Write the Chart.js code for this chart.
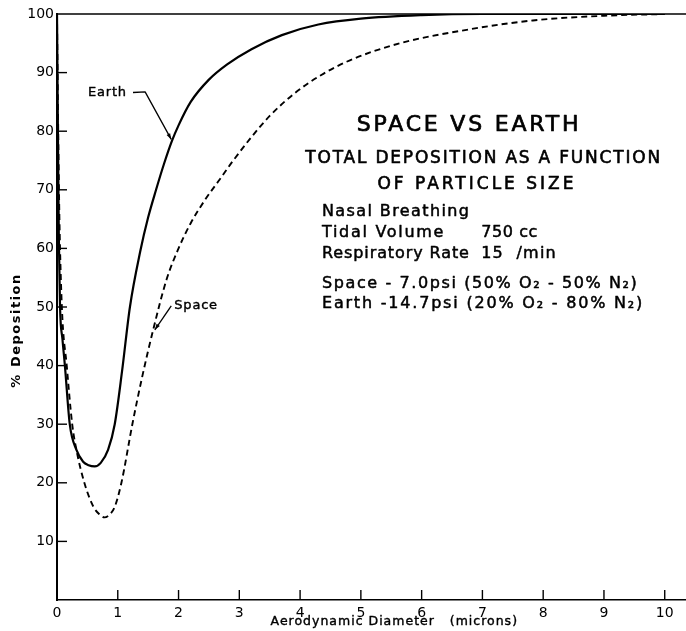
<!DOCTYPE html>
<html>
<head>
<meta charset="utf-8">
<title>Space vs Earth – total deposition</title>
<script src="https://cdn.jsdelivr.net/npm/chart.js@4.4.1/dist/chart.umd.min.js"></script>
<style>
  html, body { margin: 0; padding: 0; background: #fff; }
  canvas { display: block; }
</style>
</head>
<body>
<canvas id="chart" width="686" height="631"></canvas>
<script>
// Aerodynamic diameter (microns) and % total deposition, Earth (14.7 psi)
const diameterEarth   = [0, 0.015, 0.03, 0.05, 0.09, 0.13, 0.21, 0.32, 0.43, 0.52, 0.62, 0.72, 0.84, 0.95, 1.07, 1.2, 1.37, 1.5, 1.63, 1.76, 1.89, 2.0, 2.2, 2.5, 2.8, 3.2, 3.7, 4.3, 5.0, 6.0, 7.0, 10.0];
const depositionEarth = [100, 80, 62, 50, 44.5, 40, 30, 25.6, 23.6, 23.0, 22.8, 23.4, 25.6, 30, 39, 50, 59.5, 65.3, 70, 74.4, 78.3, 81, 85, 88.8, 91.4, 94.0, 96.4, 98.2, 99.2, 99.8, 100, 100];

// Same quantity for the space cabin atmosphere (7.0 psi)
const diameterSpace   = [0, 0.02, 0.04, 0.08, 0.16, 0.25, 0.32, 0.45, 0.6, 0.7, 0.78, 0.87, 0.95, 1.06, 1.24, 1.4, 1.58, 1.8, 2.0, 2.2, 2.45, 2.68, 2.9, 3.2, 3.5, 3.9, 4.35, 4.82, 5.64, 6.74, 7.83, 9.0, 10.0];
const depositionSpace = [100, 80, 65, 50, 40, 30, 25.6, 20, 15.9, 14.6, 14.1, 14.6, 15.9, 20, 30, 38, 46, 54.6, 60.0, 64.3, 68.5, 71.8, 75.0, 79.0, 82.6, 86.4, 89.6, 92.1, 95.0, 97.3, 98.9, 99.7, 100];

const seriesNames = ['Earth', 'Space'];
const xTickValues = [0, 1, 2, 3, 4, 5, 6, 7, 8, 9, 10];
const yTickValues = [10, 20, 30, 40, 50, 60, 70, 80, 90, 100];
const xAxisTitle = 'Aerodynamic Diameter   (microns)';
const yAxisTitle = '% Deposition';

const headingLines = ['SPACE VS EARTH', 'TOTAL DEPOSITION AS A FUNCTION', 'OF PARTICLE SIZE'];
const conditionLabels = ['Nasal Breathing', 'Tidal Volume', 'Respiratory Rate'];
const conditionValues = ['', '750 cc', '15  /min'];
const atmosphereLines = ['Space - 7.0psi (50% O\u2082 - 50% N\u2082)', 'Earth -14.7psi (20% O\u2082 - 80% N\u2082)'];

const FONT = '"DejaVu Sans", "Liberation Sans", sans-serif';

function toPoints(xs, ys) {
  return xs.map((v, i) => ({ x: v, y: ys[i] }));
}

function line(ctx, x1, y1, x2, y2) {
  ctx.beginPath();
  ctx.moveTo(x1, y1);
  ctx.lineTo(x2, y2);
  ctx.stroke();
}

function arrowHead(ctx, fromX, fromY, tipX, tipY, len, half) {
  const ang = Math.atan2(tipY - fromY, tipX - fromX);
  ctx.beginPath();
  ctx.moveTo(tipX, tipY);
  ctx.lineTo(tipX - len * Math.cos(ang) + half * Math.sin(ang), tipY - len * Math.sin(ang) - half * Math.cos(ang));
  ctx.lineTo(tipX - len * Math.cos(ang) - half * Math.sin(ang), tipY - len * Math.sin(ang) + half * Math.cos(ang));
  ctx.closePath();
  ctx.fill();
}

// Lettering: filled glyphs with a thin outline for a pen-drawn weight
function text(ctx, str, px, py, size, align, spacing, weight, outline) {
  ctx.font = (weight || 'normal') + ' ' + size + 'px ' + FONT;
  ctx.letterSpacing = (spacing || 0) + 'px';
  ctx.textAlign = align;
  ctx.textBaseline = 'middle';
  ctx.fillText(str, px, py);
  if (outline) {
    ctx.lineWidth = outline;
    ctx.lineJoin = 'round';
    ctx.strokeText(str, px, py);
  }
}

// Frame line at 100 %, inward tick marks, titles and annotation text
const decorations = {
  id: 'decorations',
  afterDatasetsDraw(chart) {
    const { ctx, chartArea: a, scales: { x, y } } = chart;
    const X = v => x.getPixelForValue(v);
    const Y = v => y.getPixelForValue(v);
    ctx.save();
    ctx.strokeStyle = '#000';
    ctx.fillStyle = '#000';

    ctx.lineWidth = 1.6;
    line(ctx, a.left, Y(100), a.right, Y(100));

    ctx.lineWidth = 1.4;
    yTickValues.filter(v => v < 100).forEach(v => line(ctx, a.left, Y(v), a.left + 10, Y(v)));
    xTickValues.filter(v => v > 0).forEach(v => line(ctx, X(v), a.bottom, X(v), a.bottom - 10));

    // axis titles
    text(ctx, xAxisTitle, X(5.55), 622, 12.5, 'center', 1.0, 'normal', 0.4);
    ctx.save();
    ctx.translate(17, Y(46));
    ctx.rotate(-Math.PI / 2);
    text(ctx, yAxisTitle, 0, 0, 13, 'center', 1.5, 'bold');
    ctx.restore();

    // curve labels with leader lines
    text(ctx, seriesNames[0], X(0.51), Y(86.5), 13, 'left', 0.8, 'normal', 0.4);
    ctx.lineWidth = 1.3;
    ctx.beginPath();
    ctx.moveTo(X(1.25), Y(86.6));
    ctx.lineTo(X(1.45), Y(86.7));
    ctx.lineTo(X(1.88), Y(78.6));
    ctx.stroke();
    arrowHead(ctx, X(1.45), Y(86.7), X(1.88), Y(78.6), 6, 2);

    text(ctx, seriesNames[1], X(1.93), Y(50.3), 13, 'left', 0.8, 'normal', 0.4);
    ctx.lineWidth = 1.3;
    line(ctx, X(1.88), Y(50.2), X(1.61), Y(46.1));
    arrowHead(ctx, X(1.88), Y(50.2), X(1.61), Y(46.1), 6, 2);

    // heading block
    text(ctx, headingLines[0], X(6.78), Y(81.05), 22, 'center', 2.8, 'normal', 0.7);
    text(ctx, headingLines[1], X(7.02), Y(75.3), 17, 'center', 1.8, 'normal', 0.6);
    text(ctx, headingLines[2], X(6.91), Y(70.9), 17, 'center', 3.0, 'normal', 0.6);

    // breathing conditions
    const rows = [66.3, 62.7, 59.0];
    const spacing = [1.4, 1.7, 0.9];
    conditionLabels.forEach((s, i) => {
      text(ctx, s, X(4.36), Y(rows[i]), 16, 'left', spacing[i], 'normal', 0.5);
      if (conditionValues[i]) text(ctx, conditionValues[i], X(6.98), Y(rows[i]), 16, 'left', i === 2 ? 1.2 : 0.6, 'normal', 0.5);
    });
    text(ctx, atmosphereLines[0], X(4.36), Y(54.0), 16, 'left', 1.6, 'normal', 0.5);
    text(ctx, atmosphereLines[1], X(4.36), Y(50.6), 16, 'left', 1.8, 'normal', 0.5);

    ctx.restore();
  }
};

new Chart(document.getElementById('chart'), {
  type: 'line',
  data: {
    datasets: [
      {
        label: seriesNames[0],
        data: toPoints(diameterEarth, depositionEarth),
        borderColor: '#000',
        borderWidth: 2.2,
        pointRadius: 0,
        cubicInterpolationMode: 'monotone',
        fill: false
      },
      {
        label: seriesNames[1],
        data: toPoints(diameterSpace, depositionSpace),
        borderColor: '#000',
        borderWidth: 1.9,
        borderDash: [6, 4],
        pointRadius: 0,
        cubicInterpolationMode: 'monotone',
        fill: false
      }
    ]
  },
  options: {
    responsive: false,
    animation: false,
    events: [],
    layout: { padding: { top: 14, right: 0, bottom: 0, left: 0 } },
    plugins: { legend: { display: false }, tooltip: { enabled: false }, title: { display: false } },
    scales: {
      x: {
        type: 'linear',
        min: 0,
        max: 10.35,
        afterBuildTicks: s => { s.ticks = xTickValues.map(v => ({ value: v })); },
        afterFit: s => { s.height = 31; },
        grid: { display: false, drawTicks: false },
        border: { display: true, color: '#000', width: 1.6 },
        ticks: { color: '#000', padding: 5, maxRotation: 0, autoSkip: false, font: { family: FONT, size: 14 } }
      },
      y: {
        type: 'linear',
        min: 0,
        max: 100,
        afterBuildTicks: s => { s.ticks = yTickValues.map(v => ({ value: v })); },
        afterFit: s => { s.width = 57; },
        grid: { display: false, drawTicks: false },
        border: { display: true, color: '#000', width: 2 },
        ticks: { color: '#000', padding: 3, autoSkip: false, font: { family: FONT, size: 14 } }
      }
    }
  },
  plugins: [decorations]
});
</script>
</body>
</html>
